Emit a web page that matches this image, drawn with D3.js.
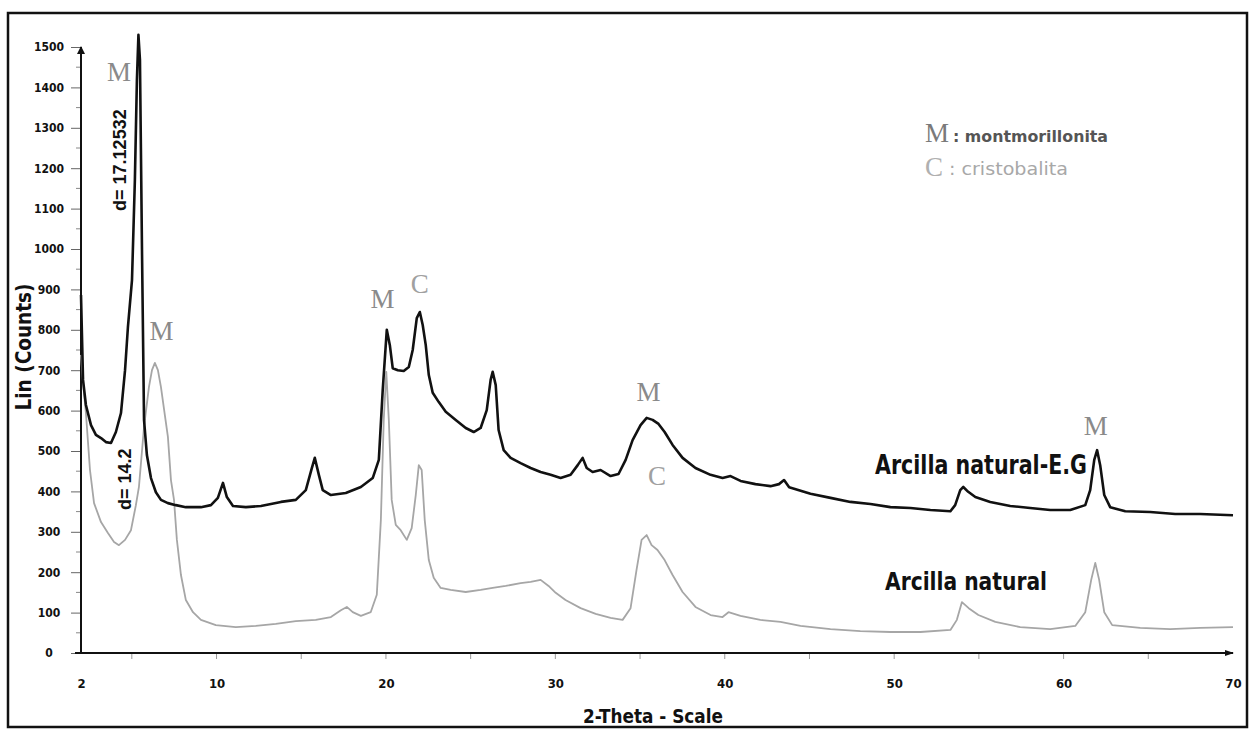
<!DOCTYPE html>
<html>
<head>
<meta charset="utf-8">
<script src="https://cdn.jsdelivr.net/npm/d3@7"></script>
<style>
  html, body { margin: 0; padding: 0; background: #fff; }
  svg { display: block; }
</style>
</head>
<body>
<svg id="chart" width="1253" height="729"></svg>
<script>
// ---------- DATA ----------
const xTicks = [2, 10, 20, 30, 40, 50, 60, 70];
const yTicks = [0, 100, 200, 300, 400, 500, 600, 700, 800, 900, 1000, 1100, 1200, 1300, 1400, 1500];

// Arcilla natural-E.G (black trace)
const egTheta = [2.0, 2.12, 2.29, 2.59, 2.88, 3.18, 3.47, 3.77, 4.06, 4.36, 4.6, 4.77, 5.01, 5.18, 5.3, 5.39, 5.48, 5.6, 5.72, 5.89,
  6.13, 6.42, 6.72, 7.13, 7.6, 8.19, 9.08, 9.67, 10.08, 10.38, 10.61, 10.97, 11.73, 12.62, 13.8, 14.68, 15.27, 15.63, 15.8, 16.04,
  16.27, 16.75, 17.63, 18.52, 19.22, 19.58, 19.81, 20.05, 20.23, 20.4, 20.7, 21.05, 21.35, 21.58, 21.82, 22.0, 22.17, 22.35, 22.53, 22.76,
  23.12, 23.53, 24.12, 24.71, 25.18, 25.59, 25.95, 26.18, 26.3, 26.48, 26.65, 26.95, 27.36, 27.95, 28.54, 29.13, 29.72, 30.31, 30.9, 31.32,
  31.61, 31.85, 32.2, 32.67, 33.26, 33.73, 34.15, 34.56, 35.03, 35.39, 35.74, 36.09, 36.45, 36.92, 37.51, 38.27, 39.16, 39.87, 40.34, 40.93,
  41.81, 42.7, 43.2, 43.5, 43.8, 45.06, 46.24, 47.42, 48.6, 49.78, 50.96, 52.14, 53.32, 53.6, 53.9, 54.08, 54.37, 54.79, 55.67, 56.85,
  58.03, 59.21, 60.39, 61.28, 61.57, 61.81, 61.98, 62.16, 62.4, 62.75, 63.64, 65.11, 66.59, 68.06, 70.0];
const egCounts = [886, 676, 614, 564, 540, 532, 522, 520, 547, 594, 700, 807, 923, 1170, 1418, 1530, 1468, 998, 577, 490,
  433, 398, 379, 371, 366, 361, 361, 366, 384, 421, 386, 364, 361, 364, 374, 379, 403, 458, 483, 441,
  403, 391, 396, 411, 433, 478, 651, 800, 762, 705, 700, 698, 708, 750, 829, 844, 812, 762, 688, 644,
  621, 597, 577, 557, 547, 557, 601, 676, 696, 663, 552, 502, 483, 470, 458, 448, 441, 433, 441, 465,
  483, 458, 448, 453, 438, 443, 478, 527, 564, 582, 577, 567, 547, 515, 483, 458, 441, 433, 438, 426,
  418, 413, 418, 428, 410, 394, 384, 374, 369, 361, 359, 354, 351, 366, 403, 411, 399, 386, 374, 364,
  359, 354, 354, 366, 403, 478, 502, 465, 391, 361, 351, 349, 344, 344, 341];

// Arcilla natural (grey trace)
const natTheta = [2.0, 2.12, 2.29, 2.53, 2.77, 3.18, 3.59, 3.95, 4.24, 4.6, 4.95, 5.24, 5.42, 5.72, 6.01, 6.19, 6.36, 6.54, 6.72, 6.95,
  7.13, 7.31, 7.49, 7.66, 7.9, 8.19, 8.61, 9.08, 9.96, 11.14, 12.32, 13.5, 14.68, 15.86, 16.75, 17.34, 17.69, 18.04, 18.52, 19.1,
  19.46, 19.7, 19.87, 20.02, 20.17, 20.34, 20.58, 20.87, 21.23, 21.52, 21.76, 21.94, 22.11, 22.29, 22.53, 22.82, 23.23, 23.82, 24.71, 25.59,
  26.3, 27.07, 27.95, 28.54, 29.13, 29.6, 30.02, 30.6, 31.49, 32.38, 33.26, 33.97, 34.44, 34.79, 35.09, 35.39, 35.68, 36.03, 36.45, 36.92,
  37.51, 38.27, 39.16, 39.87, 40.22, 40.93, 42.1, 43.29, 44.47, 46.24, 48.0, 49.78, 51.55, 53.32, 53.7, 54.0, 54.4, 54.97, 55.97, 57.44,
  59.21, 60.69, 61.28, 61.63, 61.87, 62.1, 62.4, 62.87, 64.52, 66.29, 68.06, 70.0];
const natCounts = [738, 668, 594, 453, 371, 324, 297, 275, 267, 280, 304, 366, 411, 559, 658, 700, 718, 700, 658, 589,
  535, 428, 379, 280, 193, 131, 101, 82, 69, 64, 67, 72, 79, 82, 89, 106, 114, 101, 92, 101,
  144, 329, 577, 696, 577, 379, 317, 304, 280, 309, 391, 465, 453, 329, 230, 186, 161, 156, 151, 156,
  161, 166, 173, 176, 181, 166, 149, 131, 111, 97, 87, 82, 111, 205, 280, 292, 267, 255, 230, 193,
  151, 114, 94, 89, 101, 92, 82, 77, 67, 59, 54, 52, 52, 57, 82, 126, 111, 94, 77, 64,
  59, 67, 101, 181, 223, 181, 101, 69, 62, 59, 62, 64];

// peak markers
const markText = ["M", "M", "M", "C", "M", "C", "M"];
const markTheta = [4.25, 6.75, 19.8, 22.0, 35.5, 36.0, 61.9];
const markCounts = [1415, 775, 855, 890, 625, 415, 540];
const markTone = ["#8a8a8a", "#8a8a8a", "#8a8a8a", "#a0a0a0", "#8a8a8a", "#a0a0a0", "#8a8a8a"];

// rotated d-spacing notes
const dText = ["d= 17.12532", "d= 14.2"];
const dTheta = [4.65, 4.95];
const dCounts = [1220, 430];

// ---------- DRAW ----------
const svg = d3.select("#chart");
const x = d3.scaleLinear().domain([2, 70]).range([81, 1233]);
const y = d3.scaleLinear().domain([0, 1500]).range([653, 47]);

const NARROW = "'Liberation Sans Narrow','DejaVu Sans Condensed','Liberation Sans',Arial,sans-serif";
const SERIF = "'Liberation Serif','DejaVu Serif',serif";

svg.append("rect").attr("width", 1253).attr("height", 729).attr("fill", "#fff");

// frame
svg.append("rect").attr("x", 8).attr("y", 13).attr("width", 1239).attr("height", 714)
  .attr("fill", "none").attr("stroke", "#111").attr("stroke-width", 2.5);

// y axis
const yAxis = d3.axisLeft(y).tickValues(yTicks).tickSize(10).tickFormat(d3.format("d"));
const gy = svg.append("g").attr("transform", "translate(81,0)").call(yAxis);
gy.select(".domain").remove();
gy.selectAll(".tick line").attr("stroke", "#666").attr("stroke-width", 1);
gy.selectAll(".tick text").attr("x", -32).attr("text-anchor", "middle")
  .attr("font-family", NARROW).attr("font-weight", "bold").attr("font-size", 12).attr("fill", "#111");
// minor y ticks
svg.append("g").selectAll("line").data(d3.range(50, 1500, 100)).join("line")
  .attr("x1", 76).attr("x2", 81).attr("y1", d => y(d)).attr("y2", d => y(d))
  .attr("stroke", "#888").attr("stroke-width", 1);
svg.append("line").attr("x1", 81).attr("x2", 81).attr("y1", y(0)).attr("y2", y(1500))
  .attr("stroke", "#111").attr("stroke-width", 2);
svg.append("path").attr("d", `M77,${y(1500) + 7} L81,${y(1500) - 1} L85,${y(1500) + 7} Z`).attr("fill", "#111");

// x axis
const xAxis = d3.axisBottom(x).tickValues(xTicks).tickSize(0).tickPadding(26).tickFormat(d3.format("d"));
const gx = svg.append("g").attr("transform", `translate(0,${y(0)})`).call(xAxis);
gx.select(".domain").remove();
gx.selectAll(".tick text").attr("font-family", NARROW).attr("font-weight", "bold")
  .attr("font-size", 13).attr("fill", "#111");
svg.append("g").selectAll("line").data(d3.range(5, 70, 5)).join("line")
  .attr("x1", d => x(d)).attr("x2", d => x(d)).attr("y1", y(0)).attr("y2", y(0) + 6)
  .attr("stroke", "#999").attr("stroke-width", 1);
svg.append("line").attr("x1", x(2) - 6).attr("x2", x(70)).attr("y1", y(0)).attr("y2", y(0))
  .attr("stroke", "#111").attr("stroke-width", 2);
svg.append("path").attr("d", `M${x(70) - 8},${y(0) - 3} L${x(70) + 1},${y(0)} L${x(70) - 8},${y(0) + 3} Z`).attr("fill", "#111");

// axis titles
svg.append("text").attr("transform", "translate(31,347) rotate(-90)")
  .attr("text-anchor", "middle").attr("font-family", NARROW).attr("font-weight", "bold")
  .attr("font-size", 22).attr("fill", "#111").attr("textLength", 127).attr("lengthAdjust", "spacingAndGlyphs")
  .text("Lin (Counts)");
svg.append("text").attr("x", 653).attr("y", 723).attr("text-anchor", "middle")
  .attr("font-family", NARROW).attr("font-weight", "bold").attr("font-size", 19).attr("fill", "#111")
  .attr("textLength", 140).attr("lengthAdjust", "spacingAndGlyphs")
  .text("2-Theta - Scale");

// traces
const line = d3.line().x(d => x(d[0])).y(d => y(d[1])).curve(d3.curveLinear);
const natData = natTheta.map((t, i) => [t, natCounts[i]]);
const egData = egTheta.map((t, i) => [t, egCounts[i]]);
svg.append("path").datum(natData).attr("d", line).attr("fill", "none")
  .attr("stroke", "#a6a6a6").attr("stroke-width", 1.8).attr("stroke-linejoin", "round");
svg.append("path").datum(egData).attr("d", line).attr("fill", "none")
  .attr("stroke", "#111").attr("stroke-width", 2.6).attr("stroke-linejoin", "round");

// peak markers
svg.append("g").selectAll("text").data(markText).join("text")
  .attr("x", (d, i) => x(markTheta[i])).attr("y", (d, i) => y(markCounts[i]))
  .attr("text-anchor", "middle").attr("font-family", SERIF).attr("font-size", 27)
  .attr("fill", (d, i) => markTone[i]).text(d => d);

// d-spacing notes
svg.append("g").selectAll("text").data(dText).join("text")
  .attr("transform", (d, i) => `translate(${x(dTheta[i])},${y(dCounts[i])}) rotate(-90)`)
  .attr("text-anchor", "middle").attr("font-family", "'Liberation Sans',Arial,sans-serif")
  .attr("font-weight", "bold").attr("font-size", 18).attr("fill", "#111").text(d => d);

// series labels
svg.append("text").attr("x", 875).attr("y", 474).attr("font-family", NARROW).attr("font-weight", "bold")
  .attr("font-size", 26).attr("fill", "#111").attr("textLength", 212).attr("lengthAdjust", "spacingAndGlyphs")
  .text("Arcilla natural-E.G");
svg.append("text").attr("x", 885).attr("y", 590).attr("font-family", NARROW).attr("font-weight", "bold")
  .attr("font-size", 25).attr("fill", "#111").attr("textLength", 162).attr("lengthAdjust", "spacingAndGlyphs")
  .text("Arcilla natural");

// legend
const leg = svg.append("g");
leg.append("text").attr("x", 925).attr("y", 142).attr("font-family", SERIF).attr("font-size", 27)
  .attr("fill", "#7a7a7a").text("M");
leg.append("text").attr("x", 953).attr("y", 142).attr("font-family", NARROW).attr("font-weight", "bold")
  .attr("font-size", 16).attr("fill", "#555").attr("textLength", 155).attr("lengthAdjust", "spacingAndGlyphs")
  .text(": montmorillonita");
leg.append("text").attr("x", 925).attr("y", 176).attr("font-family", SERIF).attr("font-size", 27)
  .attr("fill", "#b0b0b0").text("C");
leg.append("text").attr("x", 949).attr("y", 175).attr("font-family", NARROW)
  .attr("font-size", 17).attr("fill", "#a8a8a8").attr("textLength", 119).attr("lengthAdjust", "spacingAndGlyphs")
  .text(": cristobalita");
</script>
</body>
</html>
